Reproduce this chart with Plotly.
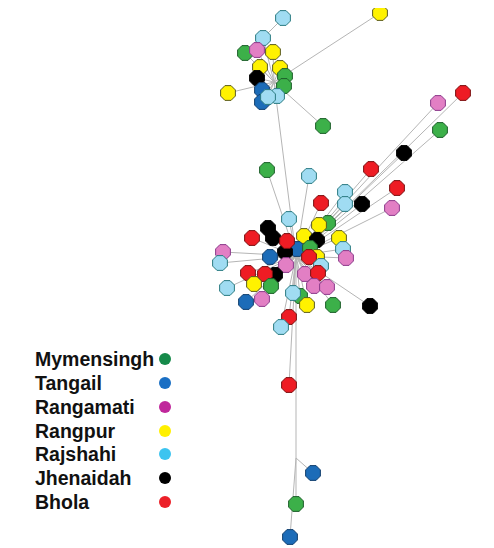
import plotly.graph_objects as go

# ---- data ----
regions = ["Mymensingh", "Tangail", "Rangamati", "Rangpur", "Rajshahi", "Jhenaidah", "Bhola"]
node_fill = {"M": "#3cb049", "T": "#1c6cb8", "R": "#e27fc4", "Y": "#fff200",
             "L": "#a0dcf2", "J": "#000000", "B": "#ee1c24"}
node_edge = {"M": "#1d5e2a", "T": "#123f6e", "R": "#8a3a8a", "Y": "#5a5a20",
             "L": "#2a7a80", "J": "#000000", "B": "#7a1010"}
legend_colors = ["#168a4a", "#1a6fc4", "#c0279b", "#fff000", "#3cc4f0", "#000000", "#ec2028"]

# nodes (layout coordinates), drawn in list order
node_x = [283, 263, 245, 257, 273, 260, 280, 285, 284, 257, 228, 262, 262, 277, 268, 380, 323,
          267, 309, 371, 404, 438, 463, 440, 397, 345, 345, 362, 392, 321, 289, 328, 319,
          268, 273, 252, 304, 317, 339, 343, 346, 223, 220, 297, 310, 285, 287, 270, 286,
          317, 309, 321, 305, 318, 248, 275, 265, 254, 271, 227, 246, 262, 300, 293, 314,
          327, 307, 333, 370, 289, 281,
          289, 313, 296, 290]
node_y = [18, 38, 53, 50, 52, 67, 68, 76, 86, 78, 93, 90, 102, 96, 97, 13, 126,
          170, 176, 169, 153, 103, 93, 130, 188, 192, 204, 204, 208, 203, 219, 223, 225,
          228, 238, 238, 236, 240, 238, 249, 258, 252, 263, 249, 248, 252, 241, 257, 265,
          257, 257, 266, 274, 273, 273, 275, 274, 284, 286, 288, 302, 299, 296, 293, 286,
          287, 305, 305, 306, 317, 327,
          385, 473, 504, 537]
node_region = ["L", "L", "M", "R", "Y", "Y", "Y", "M", "M", "J", "Y", "T", "T", "L", "L", "Y", "M",
               "M", "L", "B", "J", "R", "B", "M", "B", "L", "L", "J", "R", "B", "L", "M", "Y",
               "J", "J", "B", "Y", "J", "Y", "L", "R", "R", "L", "T", "M", "J", "B", "T", "R",
               "Y", "B", "L", "R", "B", "B", "J", "B", "Y", "M", "L", "T", "R", "M", "L", "R",
               "R", "Y", "M", "J", "B", "L",
               "B", "T", "M", "T"]

# junction points where edges meet (not drawn as nodes)
junction_x = [274, 296, 296]
junction_y = [82, 256, 458]

# edges: pairs of (kind, index); kind "n" = node, "j" = junction
top_members = list(range(1, 17))
mid_members = list(range(17, 71))
edges = [(("n", 0), ("n", 1))]
edges += [(("j", 0), ("n", i)) for i in top_members]
edges += [(("j", 0), ("j", 1))]
edges += [(("j", 1), ("n", i)) for i in mid_members]
edges += [(("j", 1), ("n", 71)), (("j", 1), ("j", 2)),
          (("j", 2), ("n", 72)), (("j", 2), ("n", 73)), (("j", 2), ("n", 74))]


def pos(ref):
    kind, i = ref
    if kind == "n":
        return node_x[i], node_y[i]
    return junction_x[i], junction_y[i]


ex, ey = [], []
for a, b in edges:
    xa, ya = pos(a)
    xb, yb = pos(b)
    ex += [xa, xb, None]
    ey += [ya, yb, None]

fig = go.Figure()
fig.add_trace(go.Scatter(x=ex, y=ey, mode="lines", cliponaxis=False,
                         line=dict(color="#b5b5b5", width=1), hoverinfo="skip"))
fig.add_trace(go.Scatter(
    x=node_x, y=node_y, mode="markers", cliponaxis=False,
    marker=dict(symbol="octagon", size=16,
                color=[node_fill[r] for r in node_region],
                line=dict(color=[node_edge[r] for r in node_region], width=1)),
    hoverinfo="skip"))

# legend (text + coloured dot)
legend_y = [359, 383, 407, 431, 454, 478, 502]
legend_dot_x = [165] * len(regions)
fig.add_trace(go.Scatter(x=legend_dot_x, y=legend_y, mode="markers", cliponaxis=False,
                         marker=dict(symbol="circle", size=12, color=legend_colors,
                                     line=dict(width=0)),
                         hoverinfo="skip"))
for name, yy in zip(regions, legend_y):
    fig.add_annotation(x=33, y=yy, text="<b>" + name + "</b>", showarrow=False,
                       xanchor="left", yanchor="middle",
                       font=dict(family="Liberation Sans, Arial", size=19.5, color="#111111"))

# page body has an 8px margin: shift the axis ranges so that marks land where they should
fig.update_layout(
    width=494, height=548, margin=dict(l=0, r=0, t=0, b=0),
    paper_bgcolor="white", plot_bgcolor="white", showlegend=False,
    xaxis=dict(range=[8, 502], visible=False, fixedrange=True),
    yaxis=dict(range=[556, 8], visible=False, fixedrange=True),
)
fig.write_html("out.html")
